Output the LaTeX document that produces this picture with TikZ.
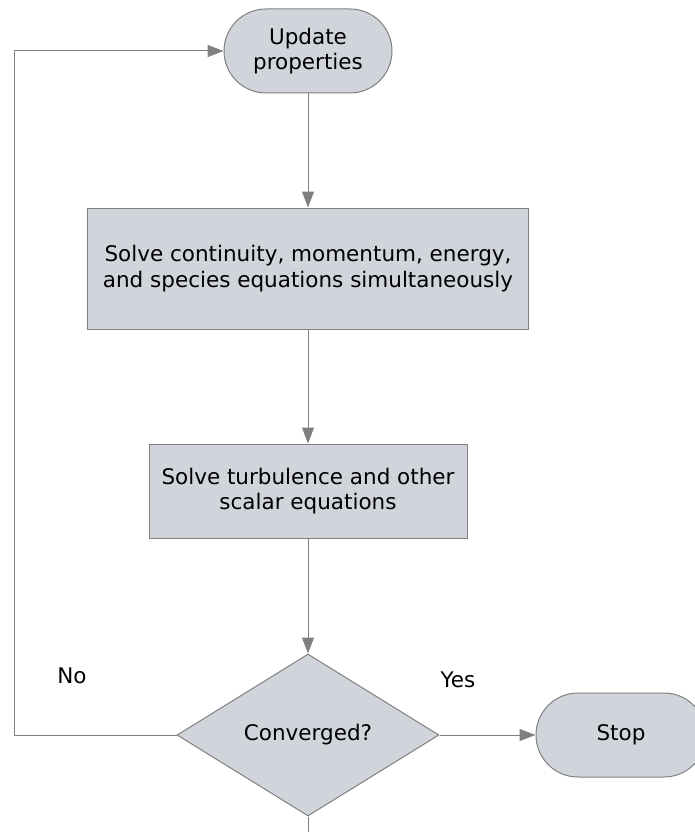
\documentclass[tikz,border=0pt]{standalone}
\usepackage{fontspec}
\setmainfont{DejaVu Sans}
\usepackage{tikz}
\usetikzlibrary{shapes.geometric, arrows.meta}
\definecolor{boxfill}{RGB}{209,213,219}
\definecolor{edgegray}{RGB}{128,128,128}

\begin{document}
\begin{tikzpicture}[x=1pt,y=-1pt,
   every node/.style={font=\fontsize{21.5}{25.5}\selectfont, text=black},
   proc/.style={draw=edgegray, fill=boxfill, line width=1pt, align=center, inner sep=0pt},
   term/.style={proc, rounded corners=42pt, minimum height=84pt},
   decide/.style={proc, diamond, minimum width=262pt, minimum height=162pt},
   arr/.style={draw=edgegray, line width=1pt, -{Triangle[length=16pt,width=12pt]}},
   plain/.style={draw=edgegray, line width=1pt}]
\useasboundingbox (0,0) rectangle (694,832);
\node[term, minimum width=168pt] (upd) at (308,51) {Update\\properties};
\node[proc, minimum width=441pt, minimum height=121pt] (solve) at (308,268.5)
   {Solve continuity, momentum, energy,\\and species equations simultaneously};
\node[proc, minimum width=318pt, minimum height=94pt] (scalar) at (308,491)
   {Solve turbulence and other\\scalar equations};
\node[decide] (conv) at (308,735) {Converged?};
\node[term, minimum width=170pt] (stop) at (621,735) {Stop};
\node (no) at (72,676) {No};
\node (yes) at (458,680) {Yes};
\coordinate (back) at (14,735);
\coordinate (down) at (308,840);
\draw[arr] (upd) -- (solve);
\draw[arr] (solve) -- (scalar);
\draw[arr] (scalar) -- (conv);
\draw[arr] (conv) -- (stop);
\draw[arr] (conv.west) -- (back) |- (upd.west);
\draw[plain] (conv.south) -- (down);
\end{tikzpicture}
\end{document}
